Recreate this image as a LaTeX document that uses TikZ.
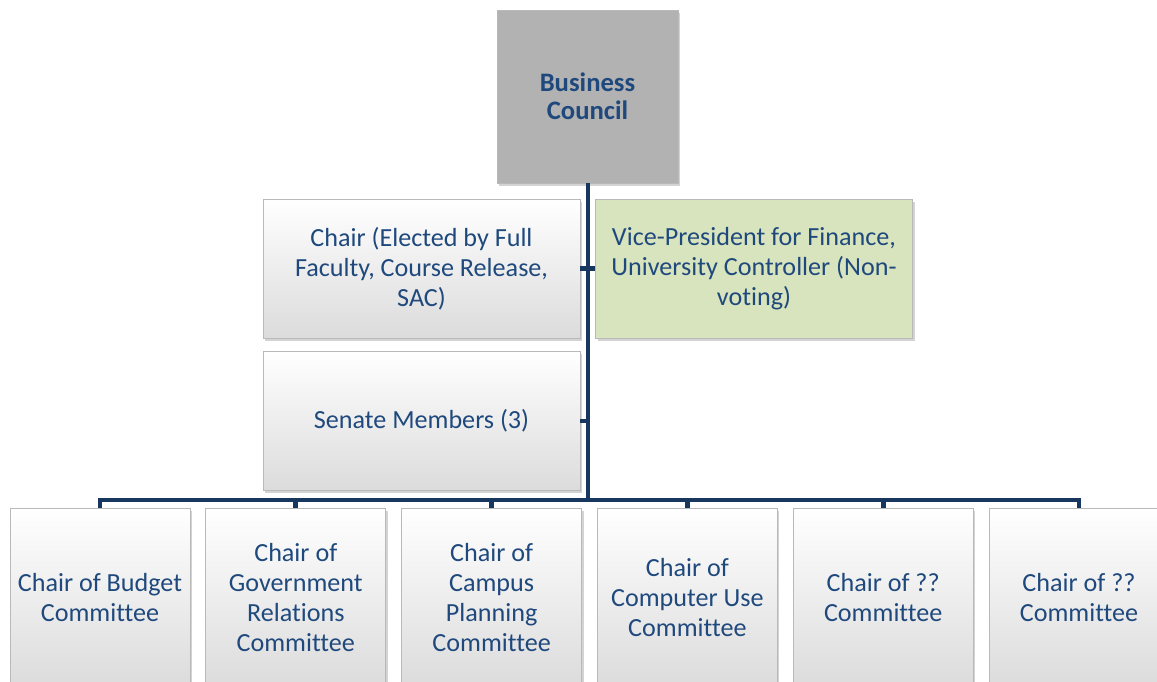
\documentclass[tikz,border=0pt]{standalone}
\usepackage{fontspec}
\setmainfont{Carlito}[Ligatures=NoCommon]
\usetikzlibrary{positioning,shadows}
\definecolor{txtblue}{HTML}{1F497D}
\definecolor{navy}{HTML}{17375E}
\definecolor{vpgreen}{HTML}{D7E4BD}
\definecolor{topgray}{HTML}{B2B2B2}
\begin{document}
\begin{tikzpicture}[x=0.75pt,y=-0.75pt,
	box/.style = {draw=gray!55, line width=0.6pt, align=center, text=txtblue,
		font=\fontsize{19.6}{22.5}\selectfont, inner sep=2pt,
		drop shadow={shadow xshift=1.5pt, shadow yshift=-2pt, opacity=0.35}},
	member/.style = {box, top color=white, bottom color=gray!28,
		minimum width=237.75pt, minimum height=104.25pt},
	vpbox/.style = {box, fill=vpgreen, minimum width=237.75pt, minimum height=104.25pt},
	council/.style = {box, fill=topgray, font=\fontsize{20}{21}\selectfont\bfseries,
		minimum width=135.75pt, minimum height=129.75pt},
	cmte/.style = {member, minimum width=135pt, minimum height=135pt},
	link/.style = {draw=navy, line width=3.6pt}]
	\useasboundingbox (0,0) rectangle (1157,682);
	\node[council] (bc) at (587.5,96.5) {Business\\Council};
	\node[member] (chair) at (421.5,268.5) {Chair (Elected by Full\\Faculty, Course Release,\\SAC)};
	\node[vpbox] (vp) at (754,268.5) {Vice-President for Finance,\\University Controller (Non-\\voting)};
	\node[member] (senate) at (421.5,421) {Senate Members (3)};
	\node[cmte] (c1) at (100,598) {Chair of Budget\\Committee};
	\node[cmte] (c2) [right=11.25pt of c1] {Chair of\\Government\\Relations\\Committee};
	\node[cmte] (c3) [right=11.25pt of c2] {Chair of\\Campus\\Planning\\Committee};
	\node[cmte] (c4) [right=11.25pt of c3] {Chair of\\Computer Use\\Committee};
	\node[cmte] (c5) [right=11.25pt of c4] {Chair of ??\\Committee};
	\node[cmte] (c6) [right=11.25pt of c5] {Chair of ??\\Committee};
	% trunk and bus
	\coordinate (hub) at (588,500);
	\path[link] (bc.south -| hub) -- (hub);
	\path[link] (chair.east) -- (chair.east -| hub);
	\path[link] (vp.west) -- (vp.west -| hub);
	\path[link] (senate.east) -- (senate.east -| hub);
	\path[link] (c1.north) -- (c1.north |- hub) -- (c6.north |- hub) -- (c6.north);
	\foreach \i in {2,...,5}
		\path[link] (c\i.north) -- (c\i.north |- hub);
\end{tikzpicture}
\end{document}
